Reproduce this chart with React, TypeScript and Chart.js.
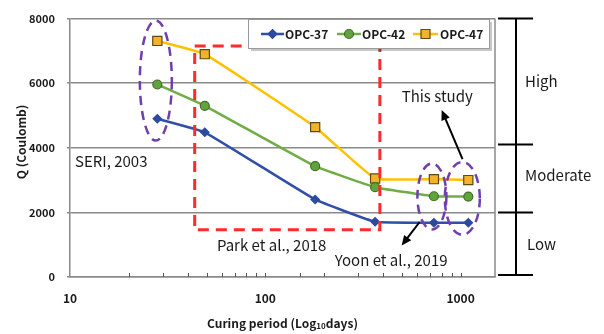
import { useEffect, useRef } from "react";
import { Chart, registerables } from "chart.js";

Chart.register(...registerables);

// Curing ages (days) and chloride penetration charge (Coulomb)
const curingDays = [28, 49, 180, 365, 730, 1095];
const opc37 = [4900, 4480, 2400, 1710, 1680, 1680];
const opc42 = [5960, 5300, 3430, 2780, 2500, 2490];
const opc47 = [7310, 6900, 4640, 3050, 3030, 3000];
const seriesLabels = ["OPC-37", "OPC-42", "OPC-47"];

const yTickStep = 2000;
const xLabelledTicks = [10, 100, 1000];

// Rating bands on the right-hand bracket
const bandEdges = [8000, 4100, 2000, 0];
const bandLabels = ["High", "Moderate", "Low"];
const bandLabelValues = [6050, 3150, 1020];

const FONT = '"Noto Sans CJK KR", "Noto Sans", sans-serif';
const GRID = "#8a8a8a";
const TEXT = "#1a1a1a";

const styles = [
  { line: "#2f4fa8", fill: "#2d4a9e", edge: "#2d4a9e", point: "rectRot", r: 4.2 },
  { line: "#70ad47", fill: "#63a33f", edge: "#3d7026", point: "circle", r: 4.5 },
  { line: "#ffc000", fill: "#f2b22c", edge: "#5e4a12", point: "rect", r: 6.5 },
];

function drawMarker(ctx: CanvasRenderingContext2D, kind: string, x: number, y: number, s: any) {
  ctx.save();
  ctx.fillStyle = s.fill;
  ctx.strokeStyle = s.edge;
  ctx.lineWidth = 1.2;
  ctx.setLineDash([]);
  ctx.beginPath();
  if (kind === "circle") {
    ctx.arc(x, y, 4.5, 0, Math.PI * 2);
  } else if (kind === "rect") {
    ctx.rect(x - 4.5, y - 4.5, 9, 9);
  } else {
    ctx.moveTo(x, y - 4.5);
    ctx.lineTo(x + 4.5, y);
    ctx.lineTo(x, y + 4.5);
    ctx.lineTo(x - 4.5, y);
    ctx.closePath();
  }
  ctx.fill();
  ctx.stroke();
  ctx.restore();
}

function arrow(ctx: CanvasRenderingContext2D, x1: number, y1: number, x2: number, y2: number) {
  const a = Math.atan2(y2 - y1, x2 - x1);
  const head = 10;
  ctx.save();
  ctx.strokeStyle = "#000";
  ctx.fillStyle = "#000";
  ctx.lineWidth = 2;
  ctx.setLineDash([]);
  ctx.beginPath();
  ctx.moveTo(x1, y1);
  ctx.lineTo(x2 - Math.cos(a) * head * 0.8, y2 - Math.sin(a) * head * 0.8);
  ctx.stroke();
  ctx.beginPath();
  ctx.moveTo(x2, y2);
  ctx.lineTo(x2 - head * Math.cos(a) + 4.5 * Math.sin(a), y2 - head * Math.sin(a) - 4.5 * Math.cos(a));
  ctx.lineTo(x2 - head * Math.cos(a) - 4.5 * Math.sin(a), y2 - head * Math.sin(a) + 4.5 * Math.cos(a));
  ctx.closePath();
  ctx.fill();
  ctx.restore();
}

const overlay = {
  id: "overlay",
  afterDraw(chart: any) {
    const ctx: CanvasRenderingContext2D = chart.ctx;
    const xs = chart.scales.x;
    const ys = chart.scales.y;
    const area = chart.chartArea;
    const px = (v: number) => xs.getPixelForValue(v);
    const py = (v: number) => ys.getPixelForValue(v);

    ctx.save();

    // right frame edge
    ctx.strokeStyle = GRID;
    ctx.lineWidth = 1.5;
    ctx.beginPath();
    ctx.moveTo(area.right, area.top);
    ctx.lineTo(area.right, area.bottom);
    ctx.stroke();

    // minor ticks of the log axis, pointing into the plot
    ctx.strokeStyle = "#555";
    ctx.lineWidth = 1;
    for (const t of xs.ticks) {
      if (t.value <= xs.min || t.value >= xs.max) continue;
      const x = Math.round(px(t.value)) + 0.5;
      ctx.beginPath();
      ctx.moveTo(x, area.bottom);
      ctx.lineTo(x, area.bottom - 4);
      ctx.stroke();
    }

    // Park et al. region
    ctx.strokeStyle = "#ff2a2a";
    ctx.lineWidth = 3;
    ctx.setLineDash([11, 7]);
    const rl = px(43.5), rr = px(386), rt = py(7150), rb = py(1460);
    ctx.strokeRect(rl, rt, rr - rl, rb - rt);

    // grouped ages of this study
    ctx.strokeStyle = "#6f3fae";
    ctx.lineWidth = 2.5;
    ctx.setLineDash([9, 6]);
    const rings = [
      { d: 28, q: 6080, dx: -1.5, rx: 16, ry: 60 },
      { d: 730, q: 2494, dx: -2, rx: 14.5, ry: 33 },
      { d: 1095, q: 2433, dx: -6, rx: 17.5, ry: 36.5 },
    ];
    for (const e of rings) {
      ctx.beginPath();
      ctx.ellipse(px(e.d) + e.dx, py(e.q), e.rx, e.ry, 0, 0, Math.PI * 2);
      ctx.stroke();
    }
    ctx.setLineDash([]);

    // arrows
    arrow(ctx, px(1023), py(3650), px(800), py(5171));
    arrow(ctx, px(617), py(1703), px(499), py(973));

    // in-plot notes
    ctx.fillStyle = TEXT;
    ctx.font = `15px ${FONT}`;
    ctx.textBaseline = "middle";
    ctx.textAlign = "left";
    ctx.fillText("SERI, 2003", px(10.6), py(3589));
    ctx.fillText("This study", px(499), py(5597));
    ctx.fillText("Park et al., 2018", px(56.5), py(973));
    ctx.fillText("Yoon et al., 2019", px(226.7), py(517));

    // rating bracket on the right
    const bx = area.right + 21;
    ctx.strokeStyle = "#000";
    ctx.lineWidth = 2;
    ctx.beginPath();
    ctx.moveTo(bx, py(bandEdges[0]));
    ctx.lineTo(bx, py(bandEdges[bandEdges.length - 1]) - 2);
    ctx.stroke();
    for (const v of bandEdges) {
      const y = v === 0 ? py(v) - 2 : py(v);
      ctx.beginPath();
      ctx.moveTo(area.right + 3, y);
      ctx.lineTo(area.right + 38, y);
      ctx.stroke();
    }
    ctx.font = `15px ${FONT}`;
    bandLabels.forEach((lab, i) => {
      ctx.fillText(lab, area.right + 30 + (lab === "Low" ? 2 : 0), py(bandLabelValues[i]));
    });

    // legend
    const lx = 248, ly = 19, lw = 241, lh = 29;
    ctx.fillStyle = "rgba(0,0,0,0.22)";
    ctx.fillRect(lx + 3, ly + 3, lw, lh);
    ctx.fillStyle = "#fff";
    ctx.fillRect(lx, ly, lw, lh);
    ctx.strokeStyle = "#9a9a9a";
    ctx.lineWidth = 1;
    ctx.strokeRect(lx + 0.5, ly + 0.5, lw, lh);
    const items = [
      { x0: 261, x1: 284, t: 285 },
      { x0: 337, x1: 361, t: 362 },
      { x0: 413, x1: 438, t: 440 },
    ];
    const cy = ly + 15;
    chart.data.datasets.forEach((ds: any, i: number) => {
      const it = items[i];
      const s = styles[i];
      ctx.strokeStyle = s.line;
      ctx.lineWidth = 2.5;
      ctx.beginPath();
      ctx.moveTo(it.x0, cy);
      ctx.lineTo(it.x1, cy);
      ctx.stroke();
      drawMarker(ctx, s.point, (it.x0 + it.x1) / 2, cy, s);
      ctx.fillStyle = TEXT;
      ctx.font = `bold 12px ${FONT}`;
      ctx.fillText(ds.label, it.t, cy);
    });

    // axis titles
    ctx.fillStyle = TEXT;
    ctx.font = `bold 12px ${FONT}`;
    ctx.textAlign = "center";
    ctx.save();
    ctx.translate(21, 142);
    ctx.rotate(-Math.PI / 2);
    ctx.fillText("Q (Coulomb)", 0, 0);
    ctx.restore();

    const partA = "Curing period (Log";
    const partB = "10";
    const partC = "days)";
    const fMain = `bold 12px ${FONT}`;
    const fSub = `bold 8px ${FONT}`;
    ctx.font = fMain;
    const wA = ctx.measureText(partA).width;
    const wC = ctx.measureText(partC).width;
    ctx.font = fSub;
    const wB = ctx.measureText(partB).width;
    const total = wA + wB + wC;
    let tx = 282.5 - total / 2;
    const ty = 323;
    ctx.textAlign = "left";
    ctx.font = fMain;
    ctx.fillText(partA, tx, ty);
    tx += wA;
    ctx.font = fSub;
    ctx.fillText(partB, tx, ty + 3);
    tx += wB;
    ctx.font = fMain;
    ctx.fillText(partC, tx, ty);

    ctx.restore();
  },
};

export default function App() {
  const ref = useRef<HTMLCanvasElement | null>(null);

  useEffect(() => {
    if (!ref.current) return;
    const series = [opc37, opc42, opc47];
    const chart = new Chart(ref.current, {
      type: "line",
      data: {
        datasets: series.map((vals, i) => ({
          label: seriesLabels[i],
          data: curingDays.map((d, j) => ({ x: d, y: vals[j] })),
          borderColor: styles[i].line,
          backgroundColor: styles[i].fill,
          pointBackgroundColor: styles[i].fill,
          pointBorderColor: styles[i].edge,
          pointBorderWidth: 1.2,
          pointStyle: styles[i].point as any,
          pointRadius: styles[i].r,
          borderWidth: 2.5,
          tension: 0.1,
          fill: false,
        })),
      },
      plugins: [overlay],
      options: {
        animation: false,
        responsive: false,
        devicePixelRatio: 1,
        layout: { padding: { top: 14, right: 109, left: 0, bottom: 0 } },
        plugins: {
          legend: { display: false },
          tooltip: { enabled: false },
        },
        scales: {
          x: {
            type: "logarithmic",
            min: 10,
            max: 1500,
            afterFit: (s: any) => {
              s.height = 57;
            },
            grid: { display: true, drawOnChartArea: false, drawTicks: false },
            border: { display: true, color: GRID, width: 1.5 },
            ticks: {
              autoSkip: false,
              maxRotation: 0,
              padding: 14,
              color: TEXT,
              font: { family: FONT, size: 12, weight: "bold" },
              callback: (v: any) => (xLabelledTicks.includes(Number(v)) ? String(v) : ""),
            },
          },
          y: {
            min: 0,
            max: 8000,
            afterFit: (s: any) => {
              s.width = 70;
            },
            grid: { color: GRID, lineWidth: 1.5, tickLength: 3, tickColor: GRID },
            border: { display: true, color: GRID, width: 1.5 },
            ticks: {
              stepSize: yTickStep,
              padding: 12,
              color: TEXT,
              font: { family: FONT, size: 11, weight: "bold" },
              callback: (v: any) => String(v),
            },
          },
        },
      },
    });
    return () => chart.destroy();
  }, []);

  return (
    <div style={{ position: "fixed", left: 0, top: 0, width: 604, height: 334, background: "#fff" }}>
      <canvas ref={ref} width={604} height={334} style={{ width: 604, height: 334, display: "block" }} />
    </div>
  );
}
